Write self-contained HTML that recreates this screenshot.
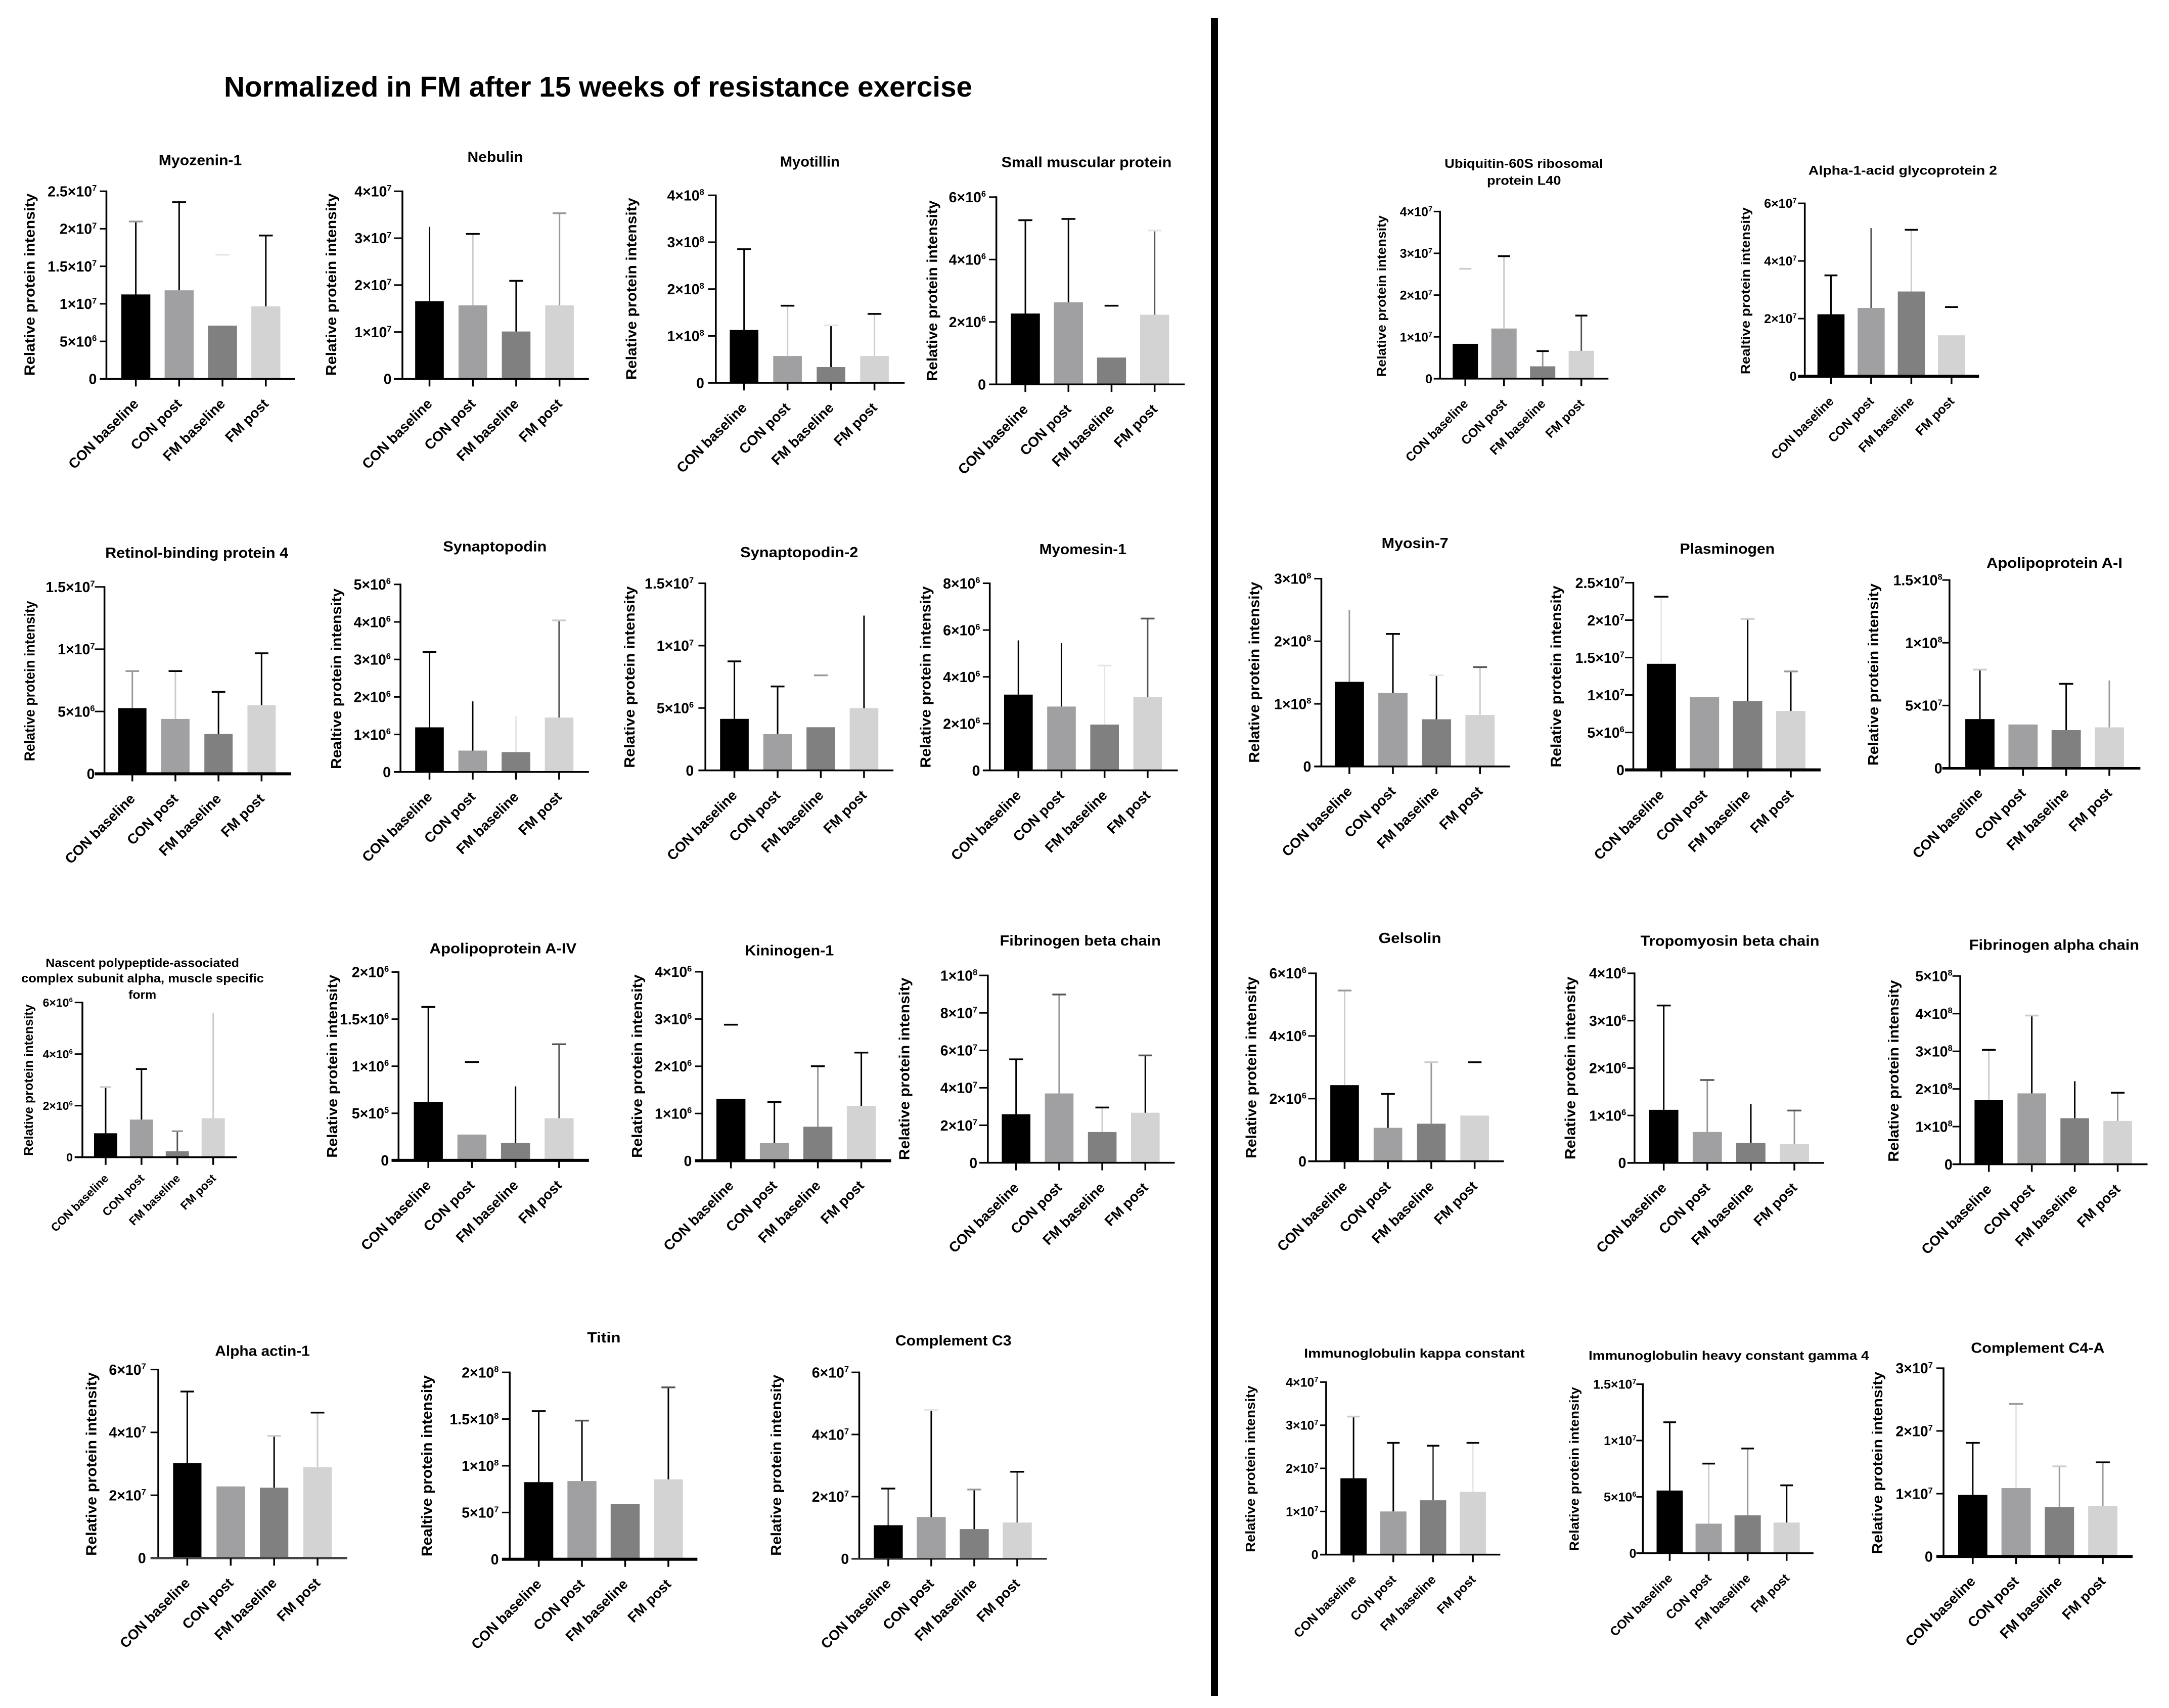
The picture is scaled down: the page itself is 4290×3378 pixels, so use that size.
<!DOCTYPE html>
<html lang="en">
<head>
<meta charset="utf-8">
<title>Normalized in FM after 15 weeks of resistance exercise</title>
<style>
html,body{margin:0;padding:0;background:#fff;width:4290px;height:3378px;overflow:hidden}
svg{display:block}
text{font-family:"Liberation Sans",Arial,sans-serif;fill:#000}
.b{font-weight:700}
</style>
</head>
<body>
<svg id="figure" xmlns="http://www.w3.org/2000/svg" width="4290" height="3378" viewBox="0 0 4290 3378">
  <rect x="0" y="0" width="4290" height="3378" fill="#fff"/>
  <text class="b" x="443" y="191" font-size="57" textLength="1480" lengthAdjust="spacingAndGlyphs">Normalized in FM after 15 weeks of resistance exercise</text>
  <rect x="2395" y="36" width="14" height="3318" fill="#000"/>
</svg>
<script>
// Shared categories
const categories = ["CON baseline", "CON post", "FM baseline", "FM post"];

// Values: y ticks, bar means, upper error limits
const myozenin1Ticks = [0, 5e6, 1e7, 1.5e7, 2e7, 2.5e7];
const myozenin1Means = [1.125e7, 1.18e7, 0.71e7, 0.966e7];
const myozenin1Upper = [2.096e7, 2.354e7, 1.654e7, 1.91e7];

const nebulinTicks = [0, 1e7, 2e7, 3e7, 4e7];
const nebulinMeans = [1.656e7, 1.567e7, 1.01e7, 1.567e7];
const nebulinUpper = [3.24e7, 3.09e7, 2.09e7, 3.53e7];

const myotilinTicks = [0, 1e8, 2e8, 3e8, 4e8];
const myotilinMeans = [1.128e8, 0.572e8, 0.336e8, 0.572e8];
const myotilinUpper = [2.85e8, 1.645e8, 1.227e8, 1.469e8];

const smallMuscularTicks = [0, 2e6, 4e6, 6e6];
const smallMuscularMeans = [2.27e6, 2.63e6, 0.86e6, 2.23e6];
const smallMuscularUpper = [5.26e6, 5.30e6, 2.52e6, 4.93e6];

const retinolTicks = [0, 5e6, 1e7, 1.5e7];
const retinolMeans = [5.27e6, 4.40e6, 3.19e6, 5.51e6];
const retinolUpper = [8.24e6, 8.24e6, 6.58e6, 9.67e6];

const synaptopodinTicks = [0, 1e6, 2e6, 3e6, 4e6, 5e6];
const synaptopodinMeans = [1.19e6, 0.57e6, 0.53e6, 1.45e6];
const synaptopodinUpper = [3.195e6, 1.883e6, 1.48e6, 4.04e6];

const synaptopodin2Ticks = [0, 5e6, 1e7, 1.5e7];
const synaptopodin2Means = [4.13e6, 2.91e6, 3.46e6, 4.99e6];
const synaptopodin2Upper = [8.74e6, 6.73e6, 7.62e6, 1.241e7];

const myomesinTicks = [0, 2e6, 4e6, 6e6, 8e6];
const myomesinMeans = [3.24e6, 2.73e6, 1.96e6, 3.14e6];
const myomesinUpper = [5.56e6, 5.44e6, 4.48e6, 6.49e6];

const nascentTicks = [0, 2e6, 4e6, 6e6];
const nascentMeans = [0.93e6, 1.46e6, 0.23e6, 1.51e6];
const nascentUpper = [2.72e6, 3.42e6, 1.01e6, 5.58e6];

const apoA4Ticks = [0, 5e5, 1e6, 1.5e6, 2e6];
const apoA4Means = [0.622e6, 0.274e6, 0.184e6, 0.447e6];
const apoA4Upper = [1.63e6, 1.044e6, 0.786e6, 1.233e6];

const kininogenTicks = [0, 1e6, 2e6, 3e6, 4e6];
const kininogenMeans = [1.31e6, 0.373e6, 0.72e6, 1.16e6];
const kininogenUpper = [2.88e6, 1.24e6, 2.0e6, 2.29e6];

const fibrinogenBetaTicks = [0, 2e7, 4e7, 6e7, 8e7, 1e8];
const fibrinogenBetaMeans = [2.59e7, 3.70e7, 1.64e7, 2.67e7];
const fibrinogenBetaUpper = [5.52e7, 8.98e7, 2.95e7, 5.73e7];

const alphaActinTicks = [0, 2e7, 4e7, 6e7];
const alphaActinMeans = [3.02e7, 2.28e7, 2.24e7, 2.89e7];
const alphaActinUpper = [5.30e7, 2.28e7, 3.89e7, 4.63e7];

const titinTicks = [0, 5e7, 1e8, 1.5e8, 2e8];
const titinMeans = [8.25e7, 8.37e7, 5.89e7, 8.55e7];
const titinUpper = [1.585e8, 1.483e8, 5.89e7, 1.839e8];

const complementC3Ticks = [0, 2e7, 4e7, 6e7];
const complementC3Means = [1.08e7, 1.345e7, 0.956e7, 1.166e7];
const complementC3Upper = [2.26e7, 4.79e7, 2.23e7, 2.80e7];

const ubiquitinTicks = [0, 1e7, 2e7, 3e7, 4e7];
const ubiquitinMeans = [0.834e7, 1.2e7, 0.295e7, 0.666e7];
const ubiquitinUpper = [2.63e7, 2.93e7, 0.66e7, 1.51e7];

const alpha1AcidTicks = [0, 2e7, 4e7, 6e7];
const alpha1AcidMeans = [2.15e7, 2.37e7, 2.94e7, 1.42e7];
const alpha1AcidUpper = [3.5e7, 5.14e7, 5.08e7, 2.40e7];

const myosin7Ticks = [0, 1e8, 2e8, 3e8];
const myosin7Means = [1.352e8, 1.175e8, 0.754e8, 0.822e8];
const myosin7Upper = [2.5e8, 2.117e8, 1.457e8, 1.587e8];

const plasminogenTicks = [0, 5e6, 1e7, 1.5e7, 2e7, 2.5e7];
const plasminogenMeans = [1.417e7, 0.974e7, 0.92e7, 0.787e7];
const plasminogenUpper = [2.313e7, 0.974e7, 2.017e7, 1.315e7];

const apoA1Ticks = [0, 5e7, 1e8, 1.5e8];
const apoA1Means = [3.92e7, 3.49e7, 3.04e7, 3.26e7];
const apoA1Upper = [7.86e7, 3.49e7, 6.73e7, 7.0e7];

const gelsolinTicks = [0, 2e6, 4e6, 6e6];
const gelsolinMeans = [2.43e6, 1.07e6, 1.2e6, 1.46e6];
const gelsolinUpper = [5.45e6, 2.15e6, 3.16e6, 3.16e6];

const tropomyosinTicks = [0, 1e6, 2e6, 3e6, 4e6];
const tropomyosinMeans = [1.12e6, 0.652e6, 0.419e6, 0.395e6];
const tropomyosinUpper = [3.32e6, 1.748e6, 1.238e6, 1.105e6];

const fibrinogenAlphaTicks = [0, 1e8, 2e8, 3e8, 4e8, 5e8];
const fibrinogenAlphaMeans = [1.703e8, 1.883e8, 1.223e8, 1.151e8];
const fibrinogenAlphaUpper = [3.04e8, 3.95e8, 2.206e8, 1.9e8];

const igKappaTicks = [0, 1e7, 2e7, 3e7, 4e7];
const igKappaMeans = [1.77e7, 1.0e7, 1.26e7, 1.454e7];
const igKappaUpper = [3.2e7, 2.59e7, 2.525e7, 2.59e7];

const igGamma4Ticks = [0, 5e6, 1e7, 1.5e7];
const igGamma4Means = [5.56e6, 2.62e6, 3.36e6, 2.72e6];
const igGamma4Upper = [1.162e7, 7.95e6, 9.29e6, 6.02e6];

const complementC4Ticks = [0, 1e7, 2e7, 3e7];
const complementC4Means = [0.98e7, 1.09e7, 0.784e7, 0.806e7];
const complementC4Upper = [1.81e7, 2.43e7, 1.435e7, 1.5e7];

// Layout frames (measurement windows for panel geometry)
const frames = {
  A:{x:0,y:0,w:1200,h:1000}, B:{x:1200,y:200,w:1200,h:800},
  C:{x:0,y:1050,w:1200,h:700}, D:{x:1200,y:1050,w:1200,h:700},
  E:{x:0,y:1800,w:1200,h:800}, F:{x:1200,y:1830,w:1200,h:700},
  G:{x:100,y:2620,w:2000,h:720}, H:{x:2650,y:250,w:1400,h:750},
  I:{x:2440,y:1040,w:1850,h:700}, J:{x:2440,y:1820,w:1850,h:700},
  K:{x:2440,y:2620,w:1850,h:720}
};
const FRAME_PX = 1568;
const REL = "Relative protein intensity";
const REAL = "Realtive protein intensity";
const inks = {k:"#000", d:"#555", g:"#999", l:"#ccc", f:"#e6e6e6"};
const barFills = ["#000000", "#a0a0a3", "#808080", "#d3d3d3"];

const charts = [
 {id:"myozenin-1",f:"A",ticks:myozenin1Ticks,means:myozenin1Means,upper:myozenin1Upper,ax:275,top:593,bot:1175,xs:258,xe:762,c0:351,c3:687,bw:75,title:[["Myozenin-1",410,625,518]],yl:[REL,78,600,1165],tr:250,stems:"kk-k",caps:"gkfk"},
 {id:"nebulin",f:"A",ticks:nebulinTicks,means:nebulinMeans,upper:nebulinUpper,ax:1040,top:593,bot:1175,xs:1018,xe:1522,c0:1110,c3:1446,bw:74,title:[["Nebulin",1208,1352,508]],yl:[REL,857,600,1165],tr:1012,stems:"klkg",caps:"-kkg"},
 {id:"myotillin",f:"B",ticks:myotilinTicks,means:myotilinMeans,upper:myotilinUpper,ax:282,top:365,bot:1092,xs:262,xe:770,c0:355,c3:692,bw:74,title:[["Myotillin",448,602,262]],yl:[REL,65,375,1080],tr:252,stems:"klkl",caps:"kkfk"},
 {id:"small-muscular-protein",f:"B",ticks:smallMuscularTicks,means:smallMuscularMeans,upper:smallMuscularUpper,ax:1007,top:372,bot:1098,xs:988,xe:1494,c0:1082,c3:1416,bw:75,title:[["Small muscular protein",1020,1460,264]],yl:[REL,842,385,1085],tr:980,stems:"kk-d",caps:"kkkf"},
 {id:"retinol-binding-protein-4",f:"C",ticks:retinolTicks,means:retinolMeans,upper:retinolUpper,ax:270,top:248,bot:1076,xs:245,xe:752,c0:342,c3:676,bw:73,title:[["Retinol-binding protein 4",272,745,128]],yl:[REL,78,310,1020],tr:245,stems:"glkk",caps:"gkkk",xlw:6},
 {id:"synaptopodin",f:"C",ticks:synaptopodinTicks,means:synaptopodinMeans,upper:synaptopodinUpper,ax:1035,top:237,bot:1068,xs:1018,xe:1522,c0:1110,c3:1445,bw:74,title:[["Synaptopodin",1145,1413,100]],yl:[REAL,870,255,1055],tr:1010,stems:"kkfd",caps:"k--l"},
 {id:"synaptopodin-2",f:"D",ticks:synaptopodin2Ticks,means:synaptopodin2Means,upper:synaptopodin2Upper,ax:255,top:232,bot:1061,xs:237,xe:741,c0:330,c3:665,bw:74,title:[["Synaptopodin-2",345,650,125]],yl:[REL,60,245,1050],tr:225,stems:"kk-k",caps:"kkg-"},
 {id:"myomesin-1",f:"D",ticks:myomesinTicks,means:myomesinMeans,upper:myomesinUpper,ax:990,top:232,bot:1061,xs:972,xe:1476,c0:1064,c3:1398,bw:74,title:[["Myomesin-1",1118,1343,112]],yl:[REL,825,245,1050],tr:965,stems:"kkfd",caps:"--fd"},
 {id:"nascent-polypeptide",f:"E",ticks:nascentTicks,means:nascentMeans,upper:nascentUpper,ax:213,top:358,bot:958,xs:193,xe:612,c0:273,c3:551,bw:60,title:[["Nascent polypeptide-associated",118,618,228],["complex subunit alpha, muscle specific",55,682,288],["form",332,404,352]],yl:[REL,73,365,952],tr:188,stems:"kkdl",caps:"lkg-",tf:23,xf:23,ylf:25,ttf:24,xd:43},
 {id:"apolipoprotein-a-iv",f:"E",ticks:apoA4Ticks,means:apoA4Means,upper:apoA4Upper,ax:1030,top:240,bot:970,xs:1012,xe:1522,c0:1107,c3:1445,bw:75,title:[["Apolipoprotein A-IV",1110,1490,175]],yl:[REL,860,250,960],tr:1005,stems:"k-kd",caps:"kk-d",xlw:6},
 {id:"kininogen-1",f:"F",ticks:kininogenTicks,means:kininogenMeans,upper:kininogenUpper,ax:247,top:206,bot:1043,xs:228,xe:735,c0:321,c3:658,bw:75,title:[["Kininogen-1",357,587,142]],yl:[REL,80,218,1030],tr:220,stems:"-kgk",caps:"kkkk",xlw:6},
 {id:"fibrinogen-beta-chain",f:"F",ticks:fibrinogenBetaTicks,means:fibrinogenBetaMeans,upper:fibrinogenBetaUpper,ax:985,top:222,bot:1052,xs:963,xe:1468,c0:1058,c3:1392,bw:74,title:[["Fibrinogen beta chain",1016,1432,98]],yl:[REL,770,232,1040],tr:958,stems:"kglk",caps:"kdkd"},
 {id:"alpha-actin-1",f:"G",ticks:alphaActinTicks,means:alphaActinMeans,upper:alphaActinUpper,ax:167,top:193,bot:1005,xs:155,xe:460,c0:212,c3:414,bw:44,title:[["Alpha actin-1",255,402,143]],yl:[REL,64,205,995],tr:148,stems:"k-kl",caps:"k-lk",xlw:5,xink:"#444"},
 {id:"titin",f:"G",ticks:titinTicks,means:titinMeans,upper:titinUpper,ax:712,top:205,bot:1010,xs:700,xe:1003,c0:757,c3:958,bw:45,title:[["Titin",832,884,85]],yl:[REAL,584,218,998],tr:695,stems:"kk-k",caps:"kd-d",xlw:6},
 {id:"complement-c3",f:"G",ticks:complementC3Ticks,means:complementC3Means,upper:complementC3Upper,ax:1254,top:205,bot:1008,xs:1242,xe:1545,c0:1299,c3:1499,bw:45,title:[["Complement C3",1310,1490,98]],yl:[REL,1126,215,995],tr:1238,stems:"dkkd",caps:"kfgk",xink:"#333"},
 {id:"ubiquitin-60s-ribosomal-protein-l40",f:"H",ticks:ubiquitinTicks,means:ubiquitinMeans,upper:ubiquitinUpper,ax:222,top:352,bot:1043,xs:208,xe:595,c0:278,c3:535,bw:56,title:[["Ubiquitin-60S ribosomal",232,583,180],["protein L40",326,490,250]],yl:[REL,92,368,1035],tr:205,stems:"-lgd",caps:"lkkk",tf:25,xf:25,ylf:25,ttf:25},
 {id:"alpha-1-acid-glycoprotein-2",f:"H",ticks:alpha1AcidTicks,means:alpha1AcidMeans,upper:alpha1AcidUpper,ax:1030,top:318,bot:1033,xs:1015,xe:1416,c0:1088,c3:1355,bw:60,title:[["Alpha-1-acid glycoprotein 2",1038,1456,208]],yl:[REAL,898,335,1025],tr:1012,stems:"kdl-",caps:"k-kk",tf:25,xf:25,ylf:25,ttf:25,xlw:6},
 {id:"myosin-7",f:"I",ticks:myosin7Ticks,means:myosin7Means,upper:myosin7Upper,ax:147,top:234,bot:1066,xs:135,xe:463,c0:194,c3:413,bw:49,title:[["Myosin-7",248,360,108]],yl:[REL,35,248,1050],tr:130,stems:"gkkl",caps:"-kfd"},
 {id:"plasminogen",f:"I",ticks:plasminogenTicks,means:plasminogenMeans,upper:plasminogenUpper,ax:670,top:252,bot:1081,xs:656,xe:984,c0:717,c3:934,bw:49,title:[["Plasminogen",748,907,132]],yl:[REL,541,265,1070],tr:655,stems:"f-kk",caps:"k-lg",xlw:6},
 {id:"apolipoprotein-a-i",f:"I",ticks:apoA1Ticks,means:apoA1Means,upper:apoA1Upper,ax:1200,top:240,bot:1074,xs:1188,xe:1520,c0:1251,c3:1468,bw:49,title:[["Apolipoprotein A-I",1262,1490,195]],yl:[REL,1073,255,1062],tr:1188,stems:"k-kg",caps:"l-k-",xlw:5},
 {id:"gelsolin",f:"J",ticks:gelsolinTicks,means:gelsolinMeans,upper:gelsolinUpper,ax:138,top:235,bot:1068,xs:125,xe:453,c0:186,c3:404,bw:48,title:[["Gelsolin",243,348,110]],yl:[REL,30,250,1055],tr:122,stems:"lkg-",caps:"gklk"},
 {id:"tropomyosin-beta-chain",f:"J",ticks:tropomyosinTicks,means:tropomyosinMeans,upper:tropomyosinUpper,ax:672,top:235,bot:1075,xs:660,xe:990,c0:721,c3:940,bw:49,title:[["Tropomyosin beta chain",682,982,122]],yl:[REL,565,250,1060],tr:658,stems:"kgkg",caps:"kd-d"},
 {id:"fibrinogen-alpha-chain",f:"J",ticks:fibrinogenAlphaTicks,means:fibrinogenAlphaMeans,upper:fibrinogenAlphaUpper,ax:1218,top:247,bot:1081,xs:1205,xe:1532,c0:1266,c3:1482,bw:48,title:[["Fibrinogen alpha chain",1233,1518,140]],yl:[REL,1107,265,1070],tr:1205,stems:"lkkg",caps:"kl-k"},
 {id:"immunoglobulin-kappa-constant",f:"K",ticks:igKappaTicks,means:igKappaMeans,upper:igKappaUpper,ax:155,top:247,bot:990,xs:145,xe:447,c0:201,c3:401,bw:44,title:[["Immunoglobulin kappa constant",118,488,150]],yl:[REL,28,262,980],tr:142,stems:"kkdf",caps:"lkkk",tf:25,xf:25,ylf:26,ttf:25},
 {id:"immunoglobulin-heavy-constant-gamma-4",f:"K",ticks:igGamma4Ticks,means:igGamma4Means,upper:igGamma4Upper,ax:686,top:256,bot:984,xs:675,xe:972,c0:731,c3:927,bw:44,title:[["Immunoglobulin heavy constant gamma 4",595,1065,160]],yl:[REL,571,268,975],tr:675,stems:"klgk",caps:"kkkk",tf:25,xf:25,ylf:26,ttf:25},
 {id:"complement-c4-a",f:"K",ticks:complementC4Ticks,means:complementC4Means,upper:complementC4Upper,ax:1190,top:187,bot:998,xs:1178,xe:1507,c0:1239,c3:1457,bw:49,title:[["Complement C4-A",1236,1460,130]],yl:[REL,1080,202,988],tr:1172,stems:"kfgg",caps:"kglk",xlw:6}
];

const SVGNS = "http://www.w3.org/2000/svg";
const root = document.getElementById("figure");

function mk(tag, parent, attrs) {
  const el = document.createElementNS(SVGNS, tag);
  for (const k in attrs) el.setAttribute(k, attrs[k]);
  parent.appendChild(el);
  return el;
}

function tickParts(v) {
  if (v === 0) return null;
  const e = Math.floor(Math.log10(v) + 1e-9);
  const m = +(v / Math.pow(10, e)).toFixed(2);
  return {m: m, e: e};
}

function drawChart(ch) {
  const fr = frames[ch.f];
  const sx = fr.w / FRAME_PX, sy = fr.h / FRAME_PX;
  const X = v => fr.x + v * sx;
  const Y = v => fr.y + v * sy;
  const ymax = ch.ticks[ch.ticks.length - 1];
  const plotTop = Y(ch.top), plotBot = Y(ch.bot);
  const yScale = v => plotBot - (v / ymax) * (plotBot - plotTop);
  const xBand = i => X(ch.c0) + i * (X(ch.c3) - X(ch.c0)) / (categories.length - 1);
  const barW = ch.bw * sx;
  const tf = ch.tf || 28.5, xf = ch.xf || 28, ylf = ch.ylf || 29, ttf = ch.ttf || 29;
  const xlw = ch.xlw || 3.5, xink = ch.xink || "#000";

  const g = mk("g", root, {});
  
  

  // title
  ch.title.forEach(function (line) {
    const t = mk("text", g, {class: "b", x: X(line[1]), y: Y(line[3]) - 4, "font-size": ttf, textLength: (line[2] - line[1]) * sx, lengthAdjust: "spacingAndGlyphs"});
    t.textContent = line[0];
    
    
  });

  // y axis title
  const ylx = X(ch.yl[1]) + 9, yly = (Y(ch.yl[2]) + Y(ch.yl[3])) / 2;
  const yt = mk("text", g, {class: "b", x: ylx, y: yly, "font-size": ylf, "text-anchor": "middle", transform: "rotate(-90 " + ylx + " " + yly + ")", textLength: (ch.yl[3] - ch.yl[2]) * sy, lengthAdjust: "spacingAndGlyphs"});
  yt.textContent = ch.yl[0];
  
  

  // bars
  categories.forEach(function (cat, i) {
    const y = yScale(ch.means[i]);
    const r = mk("rect", g, {x: xBand(i) - barW / 2, y: y, width: barW, height: plotBot - y, fill: barFills[i]});
    
    
  });

  // error bars
  categories.forEach(function (cat, i) {
    const cx = xBand(i), up = yScale(ch.upper[i]), mean = yScale(ch.means[i]);
    const sc = ch.stems[i], cc = ch.caps[i];
    if (sc !== "-") {
      const s = mk("line", g, {x1: cx, x2: cx, y1: mean, y2: up, stroke: inks[sc], "stroke-width": 3});
      
      
    }
    if (cc !== "-") {
      const cap = mk("line", g, {x1: cx - barW * 0.24, x2: cx + barW * 0.24, y1: up, y2: up, stroke: inks[cc], "stroke-width": 3.5});
      
      
    }
  });

  // y axis
  const yax = mk("line", g, {x1: X(ch.ax), x2: X(ch.ax), y1: plotTop - 1.5, y2: plotBot, stroke: "#000", "stroke-width": 3.5});
  
  

  ch.ticks.forEach(function (v) {
    const ty = yScale(v);
    if (v !== 0) {
      const tk = mk("line", g, {x1: X(ch.xs), x2: X(ch.ax), y1: ty, y2: ty, stroke: "#000", "stroke-width": 3});
      
      
    }
    const lbl = mk("text", g, {class: "b", x: X(ch.tr), y: ty + tf * 0.36, "font-size": tf, "text-anchor": "end"});
    
    
    const p = tickParts(v);
    if (!p) {
      lbl.textContent = "0";
    } else {
      const a = mk("tspan", lbl, {});
      a.textContent = p.m + "\u00d710";
      const b = mk("tspan", lbl, {"font-size": tf * 0.58, dy: -tf * 0.38});
      b.textContent = String(p.e);
    }
  });

  // x axis
  const xax = mk("line", g, {x1: X(ch.xs), x2: X(ch.xe), y1: plotBot, y2: plotBot, stroke: xink, "stroke-width": xlw});
  
  

  categories.forEach(function (cat, i) {
    const cx = xBand(i);
    const tk = mk("line", g, {x1: cx, x2: cx, y1: plotBot, y2: plotBot + 15, stroke: "#000", "stroke-width": 3.5});
    
    
    const px = cx + 7, py = plotBot + (ch.xd || 51);
    const t = mk("text", g, {class: "b", x: px, y: py, "font-size": xf, "text-anchor": "end", transform: "rotate(-45 " + px + " " + py + ")"});
    t.textContent = cat;
    
    
  });
}

charts.forEach(drawChart);
</script>
</body>
</html>
